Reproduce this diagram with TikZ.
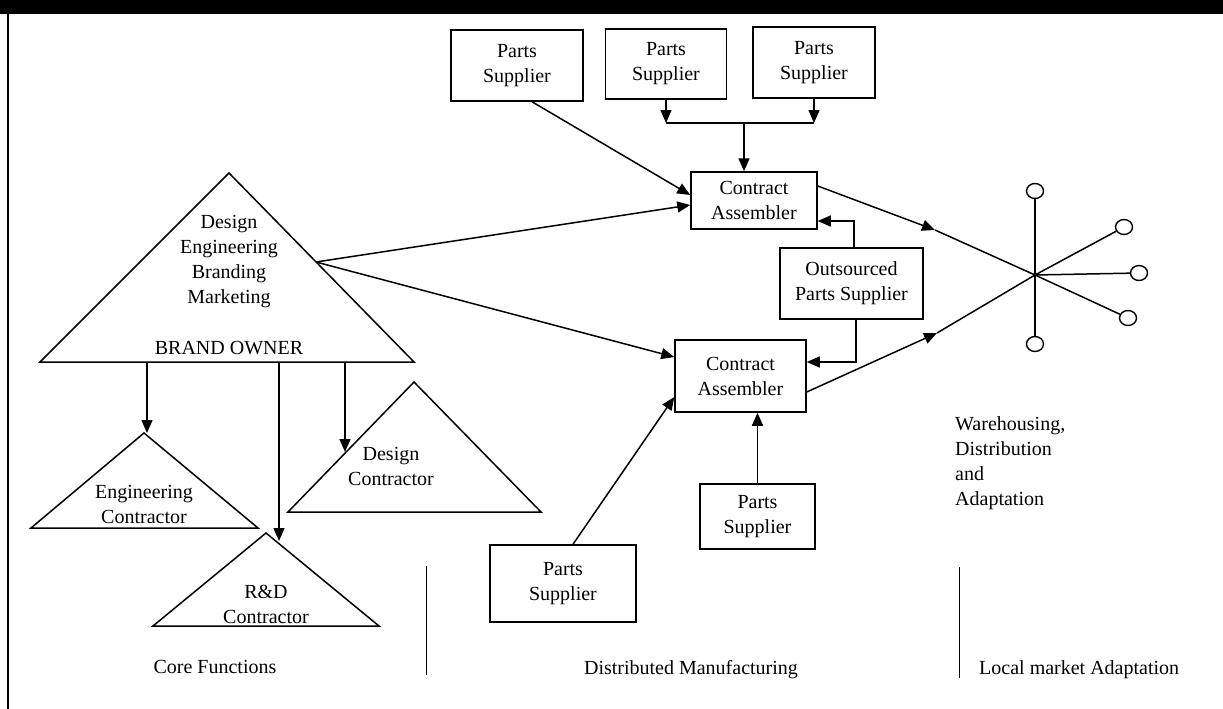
\documentclass[tikz,border=0pt]{standalone}
\usepackage{fontspec}
\setmainfont{Liberation Serif}
\usetikzlibrary{arrows.meta,shapes.geometric,calc}
\begin{document}
\begin{tikzpicture}[x=1pt,y=-1pt,
  every node/.append style={font=\fontsize{20}{25}\selectfont},
  ln/.style={line width=1.5pt},
  arr/.style={ln,-{Triangle[length=13pt,width=11pt]}},
  box/.style={draw,line width=1.5pt,rectangle,align=center,inner sep=0pt},
  tri/.style={draw,line width=1.5pt,line join=miter},
  lbl/.style={align=center,inner sep=0pt},
  blob/.style={draw,ellipse,line width=1.4pt,minimum width=17pt,minimum height=15pt,inner sep=0pt},
  divider/.style={line width=0.9pt}
]
\useasboundingbox (0,0) rectangle (1223,709);
\fill[black] (0,0) rectangle (1223,14);
\draw[line width=1.2pt] (8,14) -- (8,709);

% boxes
\node[box,minimum width=132pt,minimum height=71pt] (ps1) at (517,65.5) {Parts\\Supplier};
\node[box,minimum width=121pt,minimum height=70pt] (ps2) at (666,64) {Parts\\Supplier};
\node[box,minimum width=122pt,minimum height=71pt] (ps3) at (814,62.5) {Parts\\Supplier};
\node[box,minimum width=126pt,minimum height=57pt] (ca1) at (754,200.5) {Contract\\Assembler};
\node[box,minimum width=143pt,minimum height=71pt] (ops) at (851.5,283.5) {Outsourced\\Parts Supplier};
\node[box,minimum width=131pt,minimum height=72pt] (ca2) at (740.5,376) {Contract\\Assembler};
\node[box,minimum width=115pt,minimum height=65pt] (ps4) at (757.5,516.5) {Parts\\Supplier};
\node[box,minimum width=146pt,minimum height=77pt] (ps5) at (563,583.5) {Parts\\Supplier};

% brand owner triangle
\coordinate (boA) at (229,173); \coordinate (boL) at (40,362); \coordinate (boR) at (414,362);
\draw[tri] (boA) -- (boL) -- (boR) -- cycle;
\node[lbl] (botext) at (229,262) {Design\\Engineering\\Branding\\Marketing};
\node[lbl] (boname) at (229,348) {BRAND OWNER};

% contractor triangles
\coordinate (enA) at (144,433); \coordinate (enL) at (31,528); \coordinate (enR) at (258,528);
\draw[tri] (enA) -- (enL) -- (enR) -- cycle;
\node[lbl] (entext) at (144,504) {Engineering\\Contractor};

\coordinate (deA) at (414,382); \coordinate (deL) at (288,512); \coordinate (deR) at (541,512);
\draw[tri] (deA) -- (deL) -- (deR) -- cycle;
\node[lbl] (detext) at (391,466) {Design\\Contractor};

\coordinate (rdA) at (266,533); \coordinate (rdL) at (153,626); \coordinate (rdR) at (379,626);
\draw[tri] (rdA) -- (rdL) -- (rdR) -- cycle;
\node[lbl] (rdtext) at (266,604) {R\&D\\Contractor};

% arrows from brand owner base
\coordinate (b1) at (147,362); \coordinate (t1) at (147,433);
\coordinate (b2) at (279,362); \coordinate (t2) at (279,541);
\coordinate (b3) at (345,362); \coordinate (t3) at (345,452);
\draw[arr] (b1) -- (t1);
\draw[arr] (b2) -- (t2);
\draw[arr] (b3) -- (t3);

% brand owner to assemblers
\coordinate (boS) at (316,262);
\draw[arr] (boS) -- ($(ca1.west)+(0,4.5)$);
\draw[arr] (boS) -- ($(ca2.west)+(0,-19)$);

% parts suppliers to assembler 1
\draw[arr] ($(ps1.south)+(15,0)$) -- ($(ca1.west)+(0,-5.5)$);
\coordinate (j) at (744,123);
\draw[arr] (ps2.south) -- (ps2.south |- j);
\draw[arr] (ps3.south) -- (ps3.south |- j);
\draw[ln] (ps2.south |- j) -- (ps3.south |- j);
\draw[arr] (j) -- (j |- ca1.north);

% outsourced parts supplier
\draw[arr] ($(ops.north)+(2.5,0)$) |- ($(ca1.east)+(0,20.5)$);
\draw[arr] ($(ops.south)+(4.5,0)$) |- ($(ca2.east)+(0,-14)$);

% parts suppliers to assembler 2
\draw[arr] (ps4.north) -- (ps4.north |- ca2.south);
\draw[arr] ($(ps5.north)+(10,0)$) -- ($(ca2.west)+(0,21)$);

% star
\coordinate (sc) at (1035,275);
\node[blob] (c1) at (1035,191) {};
\node[blob] (c2) at (1124,227) {};
\node[blob] (c3) at (1139,273) {};
\node[blob] (c4) at (1128,318) {};
\node[blob] (c5) at (1035,344) {};
\foreach \c in {c1,c2,c3,c4,c5} \draw[ln] (sc) -- (\c);
\coordinate (m1) at (935,230);
\coordinate (m2) at (937,333);
\draw[arr] ($(ca1.east)+(0,-14.5)$) -- (m1);
\draw[ln] (m1) -- (sc);
\draw[arr] ($(ca2.east)+(0,16)$) -- (m2);
\draw[ln] (m2) -- (sc);

\node[align=left,inner sep=0pt,anchor=west] (wh) at (955,463) {Warehousing,\\Distribution\\and\\Adaptation};

% dividers and section labels
\coordinate (v1a) at (426,566); \coordinate (v1b) at (426,675);
\coordinate (v2a) at (959,567); \coordinate (v2b) at (959,678);
\draw[divider] (v1a) -- (v1b);
\draw[divider] (v2a) -- (v2b);
\node[inner sep=0pt] (core) at (215,667) {Core Functions};
\node[inner sep=0pt] (dist) at (691,670) {Distributed Manufacturing};
\node[inner sep=0pt,anchor=west] (local) at (979,670) {Local market Adaptation};
\end{tikzpicture}
\end{document}
